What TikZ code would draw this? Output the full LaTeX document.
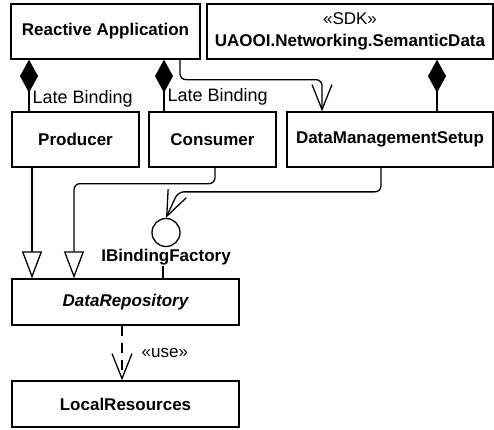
\documentclass[tikz,border=0pt]{standalone}
\usepackage{fontspec}
\setmainfont{Liberation Sans}
\usetikzlibrary{arrows.meta}

\begin{document}
\begin{tikzpicture}
        [x=1pt, y=-1pt,
        cls/.style={draw, line width=1.3pt, inner sep=0pt, minimum height=55pt, font=\bfseries\fontsize{17}{22}\selectfont},
        lbl/.style={font=\fontsize{18}{20}\selectfont, inner sep=1pt},
        comp/.style={line width=1.3pt, {Diamond[length=33pt, width=18pt]}-},
        gen/.style={line width=1.3pt, -{Triangle[length=27pt, width=20pt, fill=white]}},
        assoc/.style={line width=1.3pt, -{Straight Barb[length=25pt, width=20pt]}},
        usedep/.style={assoc, dash pattern=on 10pt off 7pt}]

        \useasboundingbox (0,0) rectangle (494,429);

        \node[cls, minimum width=189pt] (app) at (105.5,31.5) {Reactive Application};
        \node[cls, minimum width=286pt, align=center] (sdk) at (350,31.5) {{\mdseries «SDK»}\\UAOOI.Networking.SemanticData};
        \node[cls, minimum width=127pt] (prod) at (75.5,139.5) {Producer};
        \node[cls, minimum width=127pt] (cons) at (212.5,139.5) {Consumer};
        \node[cls, minimum width=206pt] (dms) at (390,139.5) {DataManagementSetup};
        \node[cls, minimum width=227pt, minimum height=46pt, font=\bfseries\itshape\fontsize{17}{22}\selectfont] (repo) at (125.5,302) {DataRepository};
        \node[cls, minimum width=227pt, minimum height=46pt] (local) at (125.5,404) {LocalResources};

        % interface lollipop
        \node[circle, draw, line width=1.3pt, minimum size=28pt, inner sep=0pt] (iface) at (166,232.5) {};
        \node[lbl, font=\bfseries\fontsize{17}{20}\selectfont] (ifname) at (166,257) {IBindingFactory};

        % late binding compositions
        \draw[comp] ([xshift=-76.5pt]app.south) -- ([xshift=-46.5pt]prod.north)
            node[lbl, pos=0.75, right=2pt] (lb1) {Late Binding};
        \draw[comp] ([xshift=58.5pt]app.south) -- ([xshift=-48.5pt]cons.north)
            node[lbl, pos=0.72, right=2pt] (lb2) {Late Binding};
        \draw[comp] ([xshift=87pt]sdk.south) -- ([xshift=47pt]dms.north);

        \draw[assoc, rounded corners=6pt] ([xshift=74.5pt]app.south) -- ++(0,20) -| ([xshift=-68pt]dms.north);

        % generalizations
        \draw[gen] ([xshift=-43.5pt]prod.south) -- ([xshift=-93.5pt]repo.north);
        \draw[gen, rounded corners=6pt] ([xshift=2.5pt]cons.south) -- ++(0,16) -| ([xshift=-51.5pt]repo.north);

        \draw[assoc, rounded corners=6pt] ([xshift=-9pt]dms.south) |- ([xshift=12pt, yshift=26pt]iface.north) -- (iface.north);
        \draw[line width=1.3pt] (ifname.south -| 163,0) -- (repo.north -| 163,0);

        \draw[usedep] ([xshift=-3.5pt]repo.south) -- ([xshift=-3.5pt]local.north)
            node[lbl, font=\fontsize{17}{20}\selectfont, pos=0.5, right=18pt] (use) {«use»};
\end{tikzpicture}
\end{document}
